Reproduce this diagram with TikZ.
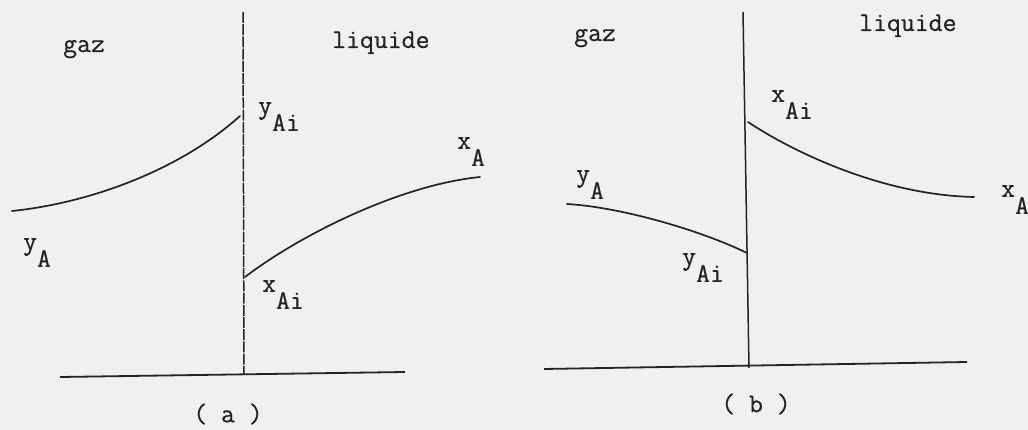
\documentclass[tikz,border=0pt]{standalone}
\usepackage{fontspec}
\setmonofont[FakeBold=0.6]{Latin Modern Mono}
\definecolor{bgpaper}{RGB}{240,241,239}
\definecolor{ink}{RGB}{35,35,35}
\newcommand\sublab[2]{#1\raisebox{-17pt}{#2}}
\begin{document}
\begin{tikzpicture}[x=1pt,y=-1pt,
  txt/.style={inner sep=0pt,text=ink,font=\fontsize{27}{32}\selectfont\ttfamily},
  lab/.style={txt,anchor=north west},
  curve/.style={draw=ink,line width=1.7pt,line cap=round},
  iface/.style={draw=ink,line width=1.5pt},
  base/.style={draw=ink,line width=1.8pt}]
\fill[bgpaper] (0,0) rectangle (1028,430);
\useasboundingbox (0,0) rectangle (1028,430);
% ---------- panel (a)
\coordinate (aT) at (243,12);
\coordinate (aB) at (244,374);
\coordinate (aL) at (60,377);
\coordinate (aR) at (405,372);
\coordinate (aG0) at (12,211);
\coordinate (aG1) at (240,116);
\coordinate (aL0) at (245,277);
\coordinate (aL1) at (480,177);
\draw[iface,dash pattern=on 11pt off 1.2pt] (aT) -- (aB);
\draw[base] (aL) -- (aR);
\draw[curve] (aG0) .. controls (90,203) and (180,170) .. (aG1);
\draw[curve] (aL0) .. controls (300,235) and (400,185) .. (aL1);
\node[txt,anchor=base west] (agaz) at (63,52) {gaz};
\node[txt,anchor=base west] (aliq) at (332,48) {liquide};
\node[lab] (ayAi) at (258,102) {\sublab{y}{Ai}};
\node[lab] (axA) at (457,137) {\sublab{x}{A}};
\node[lab] (ayA) at (23,238) {\sublab{y}{A}};
\node[lab] (axAi) at (262,280) {\sublab{x}{Ai}};
\node[txt] (acap) at (228,414) {( a )};
% ---------- panel (b)
\coordinate (bT) at (743,12);
\coordinate (bB) at (749,368);
\coordinate (bL) at (544,369);
\coordinate (bR) at (967,362);
\coordinate (bG0) at (567,204);
\coordinate (bG1) at (747,253);
\coordinate (bL0) at (748,122);
\coordinate (bL1) at (974,197);
\draw[iface] (bT) -- (bB);
\draw[base] (bL) -- (bR);
\draw[curve] (bG0) .. controls (620,207) and (700,230) .. (bG1);
\draw[curve] (bL0) .. controls (790,150) and (880,195) .. (bL1);
\node[txt,anchor=base west] (bgaz) at (574,41) {gaz};
\node[txt,anchor=base west] (bliq) at (859,31) {liquide};
\node[lab] (bxAi) at (771,90) {\sublab{x}{Ai}};
\node[lab] (byA) at (576,170) {\sublab{y}{A}};
\node[lab] (byAi) at (682,253) {\sublab{y}{Ai}};
\node[lab] (bxA) at (1001,185) {\sublab{x}{A}};
\node[txt] (bcap) at (756,404) {( b )};
\end{tikzpicture}
\end{document}
